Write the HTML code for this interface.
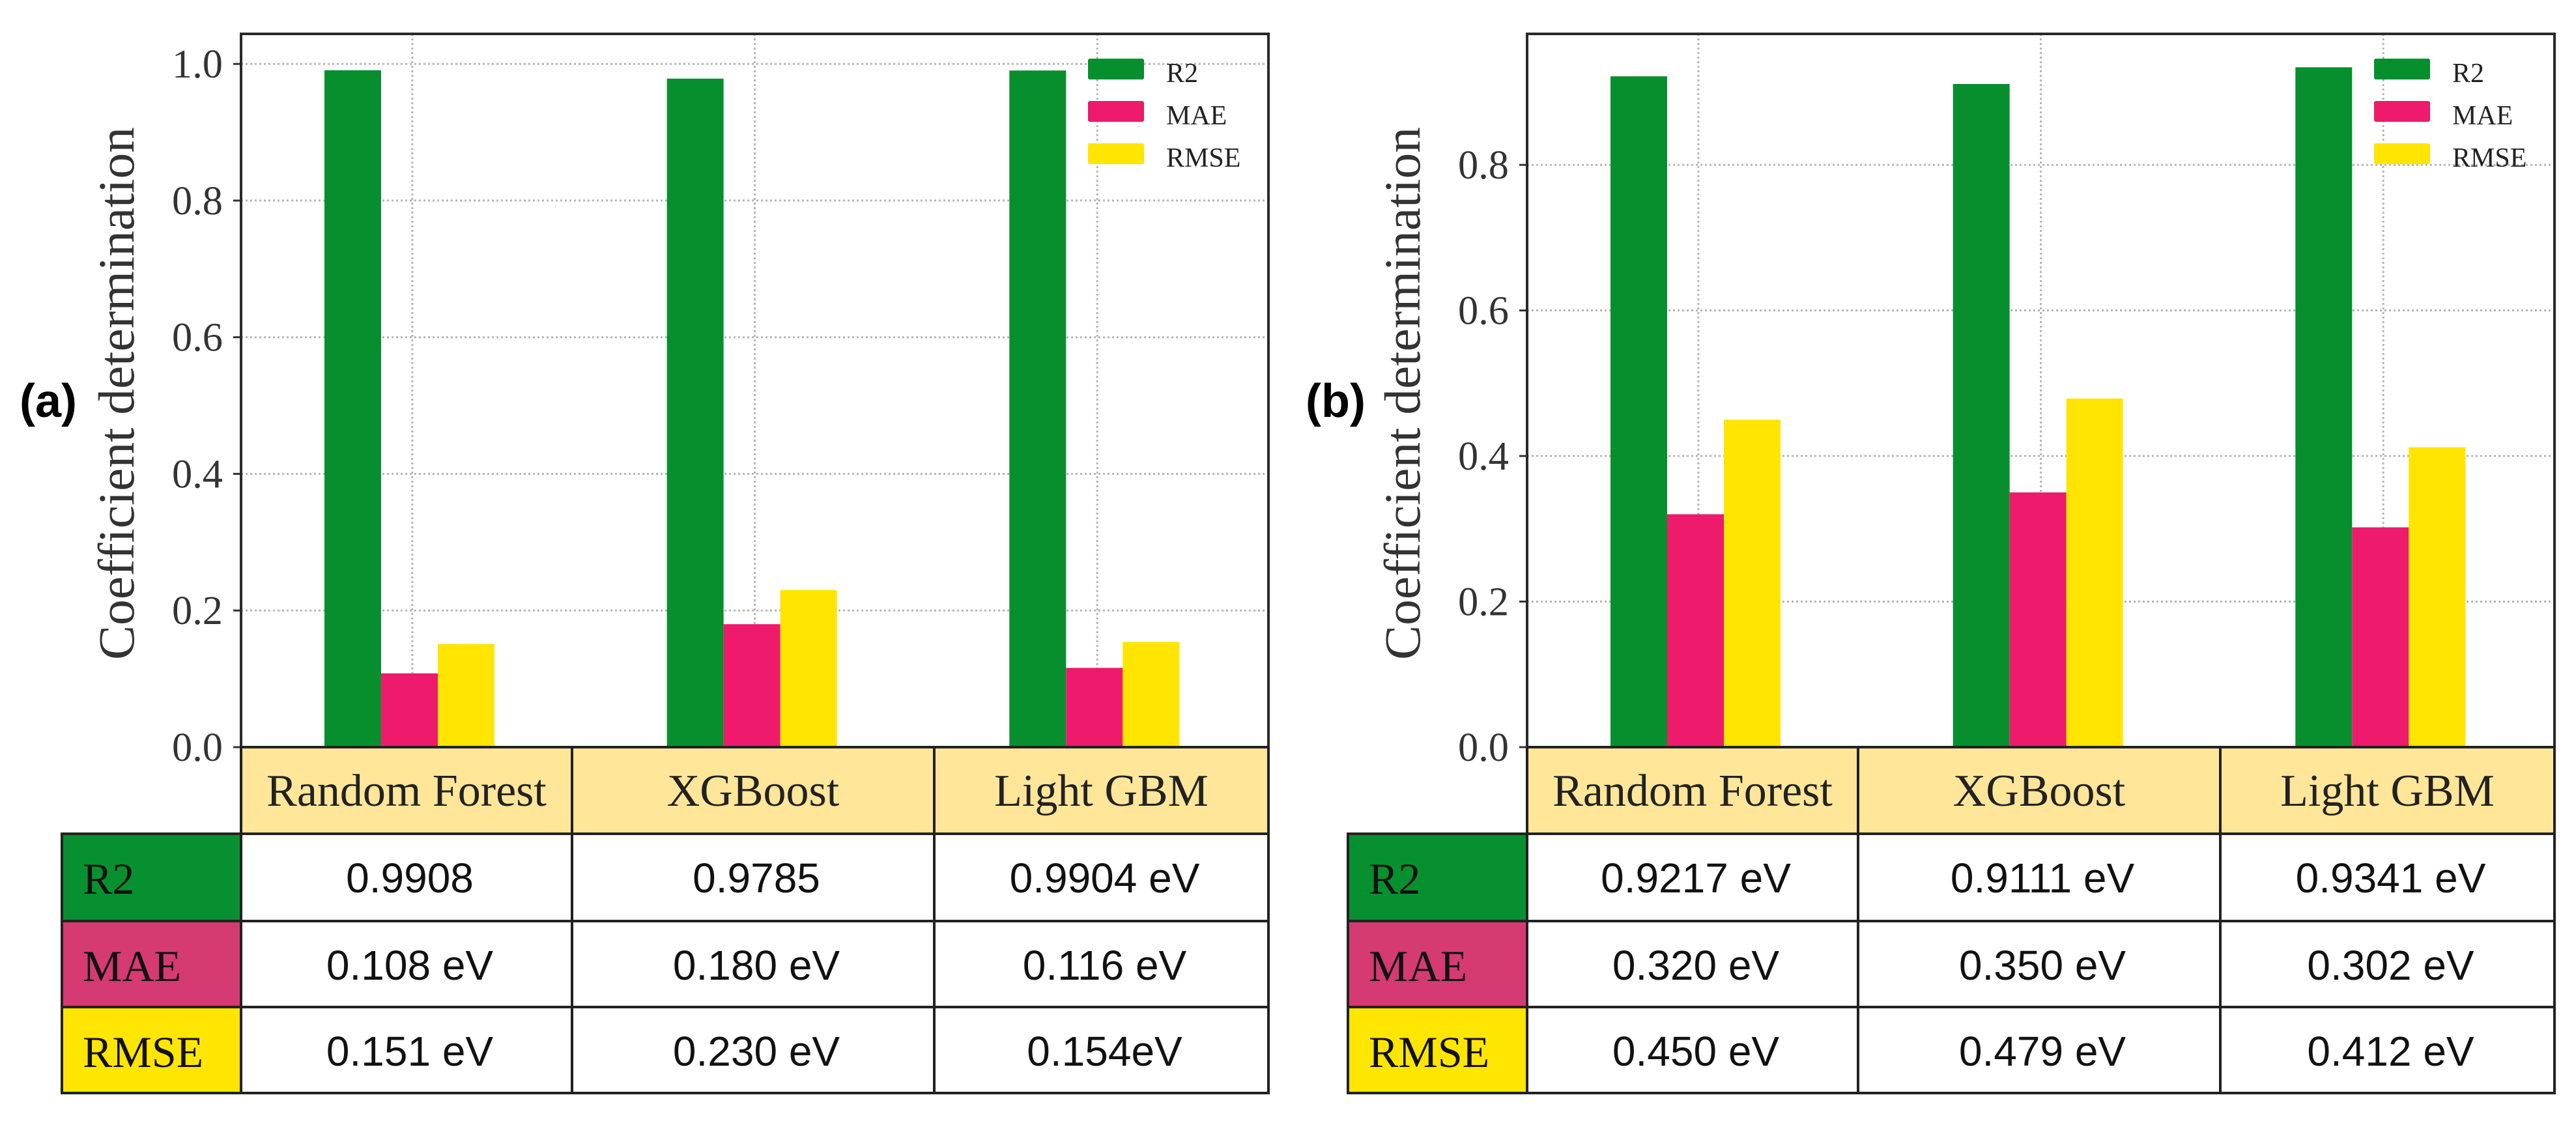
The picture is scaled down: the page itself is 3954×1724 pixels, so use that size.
<!DOCTYPE html>
<html><head><meta charset="utf-8"><style>
html,body{margin:0;padding:0;background:#fff;}
svg{display:block;}
</style></head><body>
<svg id="fig" width="3954" height="1724" viewBox="0 0 3954 1724" xmlns="http://www.w3.org/2000/svg"></svg>
<script>
const categories = ["Random Forest", "XGBoost", "Light GBM"];
const metrics = ["R2", "MAE", "RMSE"];
const aR2 = [0.9908, 0.9785, 0.9904];
const aMAE = [0.108, 0.180, 0.116];
const aRMSE = [0.151, 0.230, 0.154];
const bR2 = [0.9217, 0.9111, 0.9341];
const bMAE = [0.320, 0.350, 0.302];
const bRMSE = [0.450, 0.479, 0.412];
const aTicks = ["0.0", "0.2", "0.4", "0.6", "0.8", "1.0"];
const bTicks = ["0.0", "0.2", "0.4", "0.6", "0.8"];
const aCells = [["0.9908", "0.9785", "0.9904 eV"], ["0.108 eV", "0.180 eV", "0.116 eV"], ["0.151 eV", "0.230 eV", "0.154eV"]];
const bCells = [["0.9217 eV", "0.9111 eV", "0.9341 eV"], ["0.320 eV", "0.350 eV", "0.302 eV"], ["0.450 eV", "0.479 eV", "0.412 eV"]];

const NS = "http://www.w3.org/2000/svg";
const svg = document.getElementById("fig");
const colors = ["#078f2e", "#ee1a6b", "#ffe500"];
const rowFill = ["#079030", "#d53a72", "#ffe600"];
function mk(tag, attrs, parent, text) {
  const e = document.createElementNS(NS, tag);
  for (const k in attrs) e.setAttribute(k, attrs[k]);
  if (text !== undefined) e.textContent = text;
  (parent || svg).appendChild(e);
  return e;
}

function panel(off, label, series, ticks, ymax, cells, name) {
  const g = mk("g", {});
  
  
  const L = 370 + off, R = 1947 + off, T = 52, B = 1147;
  const y = v => B - v / ymax * (B - T);
  const xc = i => L + (i + 0.5) * (R - L) / categories.length;
  const bw = 87;
  ticks.forEach(t => {
    const v = parseFloat(t);
    if (v > 0) {
      const gl = mk("line", {x1: L, x2: R, y1: y(v), y2: y(v), stroke: "#b5b5b5", "stroke-width": 3, "stroke-dasharray": "3,4"}, g);
      
      
    }
    const tl = mk("text", {x: L - 28, y: y(v) + 21, "text-anchor": "end", "font-family": "Liberation Serif, serif", "font-size": 62, fill: "#333", textLength: 78, lengthAdjust: "spacingAndGlyphs"}, g, t);
    
    
    mk("line", {x1: L - 12, x2: L, y1: y(v), y2: y(v), stroke: "#333", "stroke-width": 3}, g);
  });
  categories.forEach((c, i) => {
    const gl = mk("line", {x1: xc(i), x2: xc(i), y1: T, y2: B, stroke: "#b5b5b5", "stroke-width": 3, "stroke-dasharray": "3,4"}, g);
    
    
  });
  series.forEach((s, k) => {
    s.forEach((v, i) => {
      const x0 = xc(i) - 1.5 * bw + k * bw - 40;
      const b = mk("rect", {x: x0 + 40 - bw * 0.05, y: y(v), width: bw, height: B - y(v), fill: colors[k]}, g);
      
      
    });
  });
  const fr = mk("rect", {x: L, y: T, width: R - L, height: B - T, fill: "none", stroke: "#2a2a2a", "stroke-width": 4}, g);
  
  
  const ly = [90, 155, 220];
  metrics.forEach((m, k) => {
    const p = mk("rect", {x: R - 277, y: ly[k], width: 86, height: 32, rx: 3, fill: colors[k]}, g);
    
    
    const t = mk("text", {x: R - 157, y: ly[k] + 36, "font-family": "Liberation Serif, serif", "font-size": 42, fill: "#222"}, g, m);
    
    
  });
  const yl = mk("text", {x: 0, y: 0, transform: "translate(" + (205 + off) + ",604) rotate(-90)", "text-anchor": "middle", "font-family": "Liberation Serif, serif", "font-size": 78, fill: "#333", textLength: 818, lengthAdjust: "spacingAndGlyphs"}, g, "Coefficient determination");
  
  
  const pl = mk("text", {x: 30 + off, y: 640, "font-family": "Liberation Sans, sans-serif", "font-weight": "bold", "font-size": 72, fill: "#000"}, g, label);
  
  
  const cols = [95 + off, 370 + off, 878 + off, 1434 + off, 1947 + off];
  const rows = [1147, 1280, 1414, 1546, 1678];
  for (let i = 0; i < 3; i++) {
    const h = mk("rect", {x: cols[i + 1], y: rows[0], width: cols[i + 2] - cols[i + 1], height: rows[1] - rows[0], fill: "#ffe699", stroke: "#222", "stroke-width": 4}, g);
    
    
    const ht = mk("text", {x: (cols[i + 1] + cols[i + 2]) / 2, y: rows[0] + 90, "text-anchor": "middle", "font-family": "Liberation Serif, serif", "font-size": 70, fill: "#222"}, g, categories[i]);
    
    
  }
  for (let r = 0; r < 3; r++) {
    const lc = mk("rect", {x: cols[0], y: rows[r + 1], width: cols[1] - cols[0], height: rows[r + 2] - rows[r + 1], fill: rowFill[r], stroke: "#222", "stroke-width": 4}, g);
    
    
    const lt = mk("text", {x: cols[0] + 32, y: rows[r + 1] + 92, "font-family": "Liberation Serif, serif", "font-size": 68, fill: "#111"}, g, metrics[r]);
    
    
    for (let i = 0; i < 3; i++) {
      const c = mk("rect", {x: cols[i + 1], y: rows[r + 1], width: cols[i + 2] - cols[i + 1], height: rows[r + 2] - rows[r + 1], fill: "#fff", stroke: "#222", "stroke-width": 4}, g);
      
      
      const t = mk("text", {x: (cols[i + 1] + cols[i + 2]) / 2 + 5, y: rows[r + 1] + 90, "text-anchor": "middle", "font-family": "Liberation Sans, sans-serif", "font-size": 64, fill: "#111"}, g, cells[r][i]);
      
      
    }
  }
}
panel(0, "(a)", [aR2, aMAE, aRMSE], aTicks, 1.044, aCells, "panel-a");
panel(1974, "(b)", [bR2, bMAE, bRMSE], bTicks, 0.98, bCells, "panel-b");
</script>
</body></html>
